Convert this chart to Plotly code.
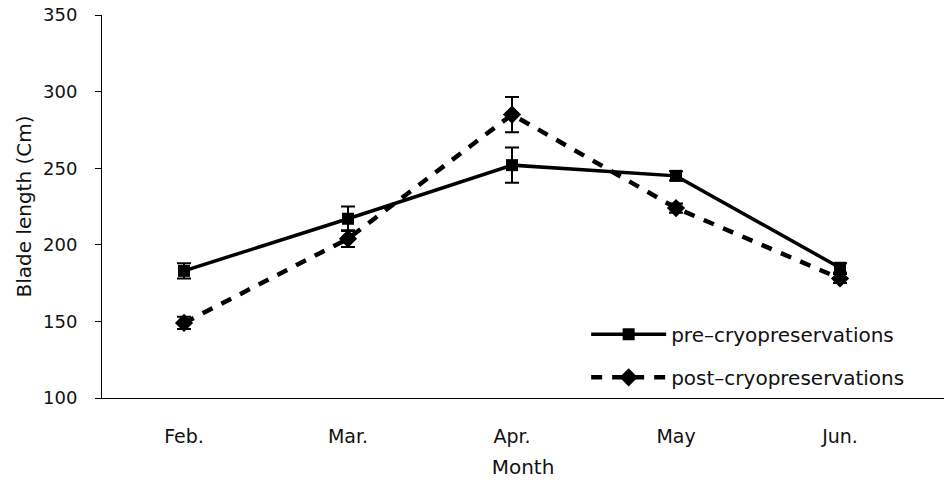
import plotly.graph_objects as go

months = ["Feb.", "Mar.", "Apr.", "May", "Jun."]
pre_vals = [183, 217, 252, 245, 185]
pre_err = [5, 8, 11.5, 3, 3]
post_vals = [149, 204, 285, 224, 178]
post_err = [4, 5.5, 11.5, 3, 3]
y_ticks = [100, 150, 200, 250, 300, 350]

font_family = "DejaVu Sans, Liberation Sans, sans-serif"

fig = go.Figure()

fig.add_trace(go.Scatter(
    x=months, y=pre_vals,
    mode="lines+markers",
    name="pre\u2013cryopreservations",
    legendgroup="pre",
    line=dict(color="black", width=3.5),
    marker=dict(symbol="square", size=12, color="black"),
    error_y=dict(type="data", array=pre_err, visible=True,
                 color="black", thickness=2, width=7),
))

fig.add_trace(go.Scatter(
    x=months, y=post_vals,
    mode="lines+markers",
    name="post\u2013cryopreservations",
    legendgroup="post",
    line=dict(color="black", width=4.5, dash="11px,10px"),
    marker=dict(symbol="diamond", size=14, color="black"),
    error_y=dict(type="data", array=post_err, visible=True,
                 color="black", thickness=2, width=7),
))

fig.update_layout(
    width=944, height=487,
    margin=dict(l=102, r=0, t=15, b=89),
    paper_bgcolor="white", plot_bgcolor="white",
    font=dict(family=font_family, size=18, color="#111"),
    showlegend=True,
    legend=dict(
        x=0.575, y=0.11, xanchor="left", yanchor="middle",
        bgcolor="rgba(0,0,0,0)",
        font=dict(size=20, color="#111"),
        itemwidth=75, tracegroupgap=14,
    ),
    xaxis=dict(
        type="category",
        range=[-0.5, 4.634],
        showline=True, linecolor="black", linewidth=1,
        ticks="", showgrid=False, zeroline=False,
        tickfont=dict(size=19),
        ticklabelstandoff=21,
        title=dict(text="Month", font=dict(size=20), standoff=14),
    ),
    yaxis=dict(
        range=[100, 350],
        tickvals=y_ticks,
        showline=True, linecolor="black", linewidth=1,
        ticks="outside", ticklen=6, tickcolor="black",
        showgrid=False, zeroline=False,
        tickfont=dict(size=18),
        ticklabelstandoff=14,
        title=dict(text="Blade length (Cm)", font=dict(size=20), standoff=6),
    ),
)

fig.write_html("out.html")
